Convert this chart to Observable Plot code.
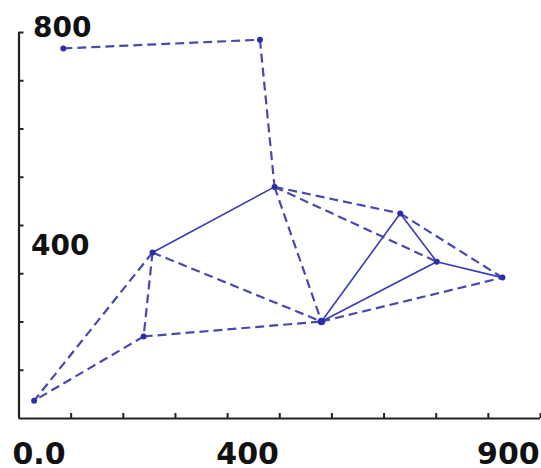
<!DOCTYPE html>
<html>
<head>
<meta charset="utf-8">
<script src="https://cdn.jsdelivr.net/npm/d3@7"></script>
<script src="https://cdn.jsdelivr.net/npm/@observablehq/plot@0.6"></script>
<style>
  html, body { margin: 0; padding: 0; background: #fff; }
  #chart svg { display: block; }
</style>
</head>
<body>
<div id="chart"></div>
<script>
// Node names and coordinates (data units)
const nodeNames = ["A", "B", "C", "D", "E", "F", "G", "H", "I", "J"];
const nodeX = [85, 462, 490, 256, 239, 29, 580, 731, 801, 927];
const nodeY = [767, 785, 480, 344, 170, 37, 201, 425, 325, 292];

// Edges
const dashedFrom = ["A", "B", "C", "C", "C", "D", "D", "D", "E", "E", "G", "H"];
const dashedTo   = ["B", "C", "G", "H", "I", "G", "E", "F", "F", "G", "J", "J"];
const solidFrom = ["C", "G", "G", "H", "I"];
const solidTo   = ["D", "H", "I", "I", "J"];

// Axis ticks and labels
const xTicks = [100, 200, 300, 400, 500, 600, 700, 800, 900, 1000];
const yTicks = [100, 200, 300, 400, 500, 600, 700, 800];
const xLabelValues = [0, 400, 900];
const xLabelText = ["0.0", "400", "900"];
const yLabelTopValue = [800];
const yLabelTopText = ["800"];
const yLabelMidValue = [400];
const yLabelMidText = ["400"];

const nodes = nodeNames.map((n, i) => ({name: n, x: nodeX[i], y: nodeY[i]}));
const byName = Object.fromEntries(nodes.map(d => [d.name, d]));
const makeEdges = (from, to) => from.map((f, i) => ({
  x1: byName[f].x, y1: byName[f].y, x2: byName[to[i]].x, y2: byName[to[i]].y
}));
const dashed = makeEdges(dashedFrom, dashedTo);
const solid = makeEdges(solidFrom, solidTo);

const ML = 18.5, MR = 1, MT = 32, MB = 50, W = 541, H = 468;
const innerW = W - ML - MR, innerH = H - MT - MB;

const chart = Plot.plot({
  width: W,
  height: H,
  marginLeft: ML,
  marginRight: MR,
  marginTop: MT,
  marginBottom: MB,
  x: {domain: [0, 1000], axis: null},
  y: {domain: [0, 800], axis: null},
  style: {background: "#fff", overflow: "visible"},
  marks: [
    Plot.link(dashed, {x1: "x1", y1: "y1", x2: "x2", y2: "y2",
      stroke: "#4848ad", strokeWidth: 2.2, strokeDasharray: "9,5"}),
    Plot.link(solid, {x1: "x1", y1: "y1", x2: "x2", y2: "y2",
      stroke: "#3a3ab4", strokeWidth: 1.6}),
    Plot.dot(nodes, {x: "x", y: "y", r: d => d.name === "G" ? 4.5 : 2.8,
      fill: "#2e2ea8", stroke: "none"}),
    Plot.ruleX([0], {stroke: "#222", strokeWidth: 2.2}),
    Plot.ruleY([0], {stroke: "#222", strokeWidth: 2.2}),
    Plot.tickX(xTicks, {x: d => d, insetTop: innerH - 5, stroke: "#222", strokeWidth: 2}),
    Plot.tickY(yTicks, {y: d => d, insetRight: innerW - 5, stroke: "#222", strokeWidth: 2}),
    Plot.text(xLabelValues, {x: d => d, y: 0, text: (d, i) => xLabelText[i],
      dx: 20, dy: 36, fontSize: 30, fontWeight: "bold", fontFamily: "DejaVu Sans", fill: "#111"}),
    Plot.text(yLabelTopValue, {x: 0, y: d => d, text: (d, i) => yLabelTopText[i],
      textAnchor: "start", dx: 14, dy: -4, fontSize: 28, fontWeight: "bold", fontFamily: "DejaVu Sans", fill: "#111"}),
    Plot.text(yLabelMidValue, {x: 0, y: d => d, text: (d, i) => yLabelMidText[i],
      textAnchor: "start", dx: 12, dy: 21, fontSize: 28, fontWeight: "bold", fontFamily: "DejaVu Sans", fill: "#111"})
  ]
});
document.getElementById("chart").appendChild(chart);
</script>
</body>
</html>
